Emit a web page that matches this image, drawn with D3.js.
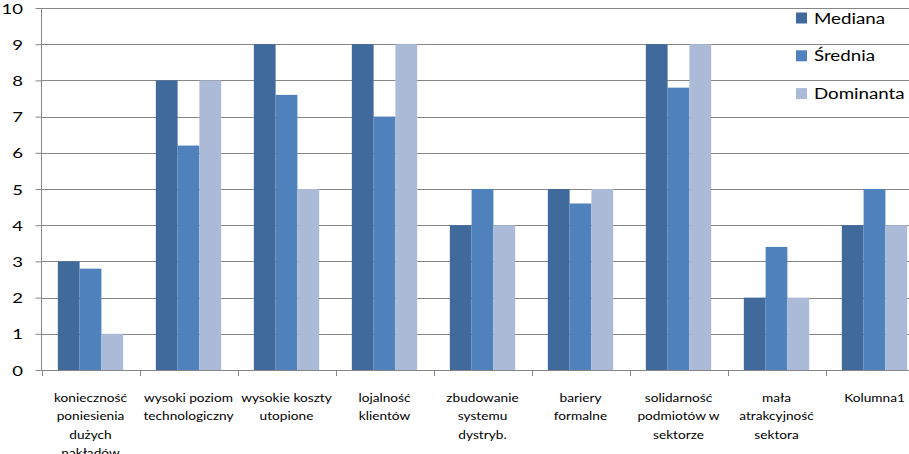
<!DOCTYPE html>
<html><head><meta charset="utf-8">
<script src="https://cdn.jsdelivr.net/npm/d3@7"></script>
<style>body{margin:0;background:#fff;overflow:hidden}svg{display:block}</style>
</head><body>
<svg id="chart" width="909" height="454"></svg>
<script>
const categories = ["konieczność\nponiesienia\ndużych\nnakładów", "wysoki poziom\ntechnologiczny", "wysokie koszty\nutopione", "lojalność\nklientów", "zbudowanie\nsystemu\ndystryb.", "bariery\nformalne", "solidarność\npodmiotów w\nsektorze", "mała\natrakcyjność\nsektora", "Kolumna1"];
const seriesNames = ["Mediana", "Średnia", "Dominanta"];
const mediana = [3, 8, 9, 9, 4, 5, 9, 2, 4];
const srednia = [2.8, 6.2, 7.6, 7, 5, 4.6, 7.8, 3.4, 5];
const dominanta = [1, 8, 5, 9, 4, 5, 9, 2, 4];
const yTicks = [0,1,2,3,4,5,6,7,8,9,10];
const colors = ["#40699C", "#4F81BD", "#AABAD7"];
const series = [mediana, srednia, dominanta];

const svg = d3.select("#chart");
const font = "Lato, 'Open Sans', sans-serif";
const pLeft = 41.5, pRight = 923.5, pTop = 8, pBottom = 370;
const x = d3.scaleBand().domain(categories).range([pLeft, pRight]).paddingInner(0).paddingOuter(0);
const x1 = d3.scaleBand().domain(seriesNames).range([0, x.bandwidth()]).paddingInner(0).paddingOuter(0.75);
const y = d3.scaleLinear().domain([0, 10]).range([pBottom, pTop]);

// horizontal stretch factor so a sample text reaches a target width
function stretch(sample, size, target) {
  const t = svg.append("text").attr("font-family", font).attr("font-size", size).text(sample);
  const w = t.node().getComputedTextLength();
  t.remove();
  return target / w;
}
const sxTick = stretch("10", 14, 21.5);
const sxLabel = stretch("konieczność", 12, 73);
const sxLegend = stretch("Mediana", 15.5, 71);

// gridlines
svg.append("g").selectAll("line").data(yTicks.filter(d => d > 0)).join("line")
  .attr("x1", pLeft).attr("x2", 909).attr("y1", d => Math.round(y(d)) + 0.5).attr("y2", d => Math.round(y(d)) + 0.5)
  .attr("stroke", "#868686").attr("stroke-width", 1);

// bars
const g = svg.append("g");
categories.forEach((c, i) => {
  series.forEach((s, j) => {
    g.append("rect")
      .attr("x", x(c) + x1(seriesNames[j]))
      .attr("width", x1.bandwidth())
      .attr("y", y(s[i]))
      .attr("height", y(0) - y(s[i]))
      .attr("fill", colors[j]);
  });
});

// y axis
const yAxis = d3.axisLeft(y).tickValues(yTicks).tickSize(6).tickFormat(d3.format("d"));
const ya = svg.append("g").attr("transform", `translate(${pLeft},0)`).call(yAxis);
ya.select(".domain").attr("stroke", "#868686").attr("d", `M0,${pTop}V${pBottom}`);
ya.selectAll(".tick line").attr("stroke", "#868686");
ya.selectAll(".tick text").attr("font-family", font).attr("font-size", 14).attr("fill", "#000")
  .attr("x", null).attr("dy", "0.36em").attr("transform", `translate(-18.5,0) scale(${sxTick},1)`);

// x axis
svg.append("line").attr("x1", pLeft).attr("x2", 909).attr("y1", pBottom + 0.5).attr("y2", pBottom + 0.5).attr("stroke", "#868686");
const bounds = categories.map(c => x(c)).concat([pRight]);
svg.append("g").selectAll("line").data(bounds).join("line")
  .attr("x1", d => Math.round(d) + 0.5).attr("x2", d => Math.round(d) + 0.5)
  .attr("y1", pBottom).attr("y2", pBottom + 6).attr("stroke", "#868686");

const labels = svg.append("g");
categories.forEach(c => {
  const t = labels.append("text").attr("font-family", font).attr("font-size", 12).attr("fill", "#000")
    .attr("text-anchor", "middle")
    .attr("transform", `translate(${x(c) + x.bandwidth() / 2},402) scale(${sxLabel},1)`);
  c.split("\n").forEach((line, k) => {
    t.append("tspan").attr("x", 0).attr("y", k * 18.5).text(line);
  });
});

// legend
const lg = svg.append("g");
seriesNames.forEach((n, j) => {
  const yy = 18 + j * 37.8;
  lg.append("rect").attr("x", 796).attr("y", yy - 5.5).attr("width", 11).attr("height", 11).attr("fill", colors[j]);
  lg.append("text").attr("font-family", font).attr("font-size", 15.5)
    .attr("transform", `translate(814,${yy + 5.5}) scale(${sxLegend},1)`)
    .attr("fill", "#000").text(n);
});
</script>
</body></html>
